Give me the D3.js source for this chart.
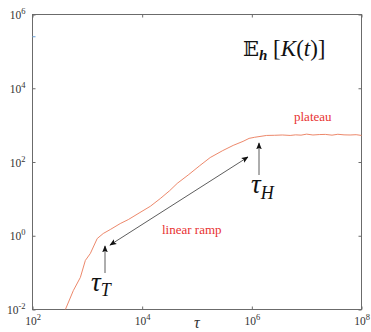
<!DOCTYPE html>
<html>
<head>
<meta charset="utf-8">
<script src="https://cdn.jsdelivr.net/npm/d3@7"></script>
<style>
  html, body { margin: 0; padding: 0; background: #fff; }
  svg { display: block; }
</style>
</head>
<body>
<svg id="chart" width="371" height="332"></svg>
<script>
// values
var tau = [398, 556, 746, 920, 1135, 1514, 1950, 2630, 3980, 5600, 9120, 14100, 21400,
  31600, 43600, 70800, 112000, 174000, 295000, 457000, 692000, 891000, 1.12e6, 1.86e6,
  2.6e6, 3.6e6, 5.0e6, 6.3e6, 7.9e6, 1.0e7, 1.3e7, 1.7e7, 2.2e7, 2.9e7, 3.7e7, 4.8e7,
  6.2e7, 8.0e7, 1.0e8];
var kMean = [0.010, 0.0327, 0.074, 0.214, 0.331, 0.84, 1.15, 1.48, 2.14, 2.75, 4.27, 6.3, 10.2,
  16.6, 26.3, 45.7, 79.4, 132, 204, 282, 363, 437, 468, 525,
  530, 540, 525, 545, 535, 570, 540, 555, 560, 535, 565, 545, 540, 550, 525];
var xTicks = [1e2, 1e4, 1e6, 1e8];
var xTickExp = ["2", "4", "6", "8"];
var yTicks = [1e-2, 1e0, 1e2, 1e4, 1e6];
var yTickExp = ["-2", "0", "2", "4", "6"];

var serif = "Liberation Serif, Tinos, Times New Roman, Times, Noto Serif, DejaVu Serif, serif";

var svg = d3.select("#chart");
var plotLeft = 32.5, plotRight = 361.5, plotTop = 14.5, plotBottom = 309.5;

var x = d3.scaleLog().domain([1e2, 1e8]).range([plotLeft, plotRight]);
var y = d3.scaleLog().domain([1e-2, 1e6]).range([plotBottom, plotTop]);

var axisColor = "#6b6b6b";

// frame
svg.append("rect")
  .attr("x", plotLeft).attr("y", plotTop)
  .attr("width", plotRight - plotLeft).attr("height", plotBottom - plotTop)
  .attr("fill", "none").attr("stroke", axisColor).attr("stroke-width", 1);

function styleAxis(g) {
  g.attr("font-family", serif);
  g.select(".domain").remove();
  g.selectAll(".tick line").attr("stroke", axisColor);
}
function noLabel() { return ""; }

var gx = svg.append("g").attr("transform", "translate(0," + plotBottom + ")")
  .call(d3.axisBottom(x).tickValues(xTicks).tickSize(-3).tickFormat(noLabel))
  .call(styleAxis);
svg.append("g").attr("transform", "translate(0," + plotTop + ")")
  .call(d3.axisTop(x).tickValues(xTicks).tickSize(-3).tickFormat(noLabel))
  .call(styleAxis);
var gy = svg.append("g").attr("transform", "translate(" + plotLeft + ",0)")
  .call(d3.axisLeft(y).tickValues(yTicks).tickSize(-3).tickFormat(noLabel))
  .call(styleAxis);
svg.append("g").attr("transform", "translate(" + plotRight + ",0)")
  .call(d3.axisRight(y).tickValues(yTicks).tickSize(-3).tickFormat(noLabel))
  .call(styleAxis);

// tick labels as 10 with a superscript exponent
gx.selectAll(".tick").each(function (d, i) {
  var t = d3.select(this).append("text")
    .attr("y", 15).attr("text-anchor", "middle")
    .style("font-family", serif)
    .attr("fill", "#333").attr("font-size", 11.5);
  t.append("tspan").text("10");
  t.append("tspan").attr("dy", -5).attr("font-size", 8.5).text(xTickExp[i]);
});
gy.selectAll(".tick").each(function (d, i) {
  var t = d3.select(this).append("text")
    .attr("x", -7).attr("y", 4).attr("text-anchor", "end")
    .style("font-family", serif)
    .attr("fill", "#333").attr("font-size", 11.5);
  t.append("tspan").text("10");
  t.append("tspan").attr("dy", -5).attr("font-size", 8.5).text(yTickExp[i]);
});

// small blue mark on left axis
svg.append("line")
  .attr("x1", plotLeft).attr("x2", plotLeft + 3)
  .attr("y1", y(2.5e5)).attr("y2", y(2.5e5))
  .attr("stroke", "#7fb0e0").attr("stroke-width", 1.2);

// curve
var line = d3.line()
  .x(function (d, i) { return x(tau[i]); })
  .y(function (d, i) { return y(kMean[i]); });
svg.append("path")
  .datum(tau)
  .attr("d", line)
  .attr("fill", "none")
  .attr("stroke", "#ea7a5a")
  .attr("stroke-width", 0.9);

// arrows
var defs = svg.append("defs");
defs.append("marker")
  .attr("id", "head")
  .attr("viewBox", "0 0 10 10")
  .attr("refX", 9).attr("refY", 5)
  .attr("markerWidth", 7).attr("markerHeight", 7)
  .attr("markerUnits", "userSpaceOnUse")
  .attr("orient", "auto-start-reverse")
  .append("path").attr("d", "M0,1 L10,5 L0,9 L2,5 Z").attr("fill", "#111");

function arrow(x1, y1, x2, y2, both) {
  var l = svg.append("line")
    .attr("x1", x1).attr("y1", y1).attr("x2", x2).attr("y2", y2)
    .attr("stroke", "#333").attr("stroke-width", 0.8)
    .attr("marker-end", "url(#head)");
  if (both) l.attr("marker-start", "url(#head)");
}
arrow(110, 245, 248, 157, true);
arrow(105, 273, 105, 246, false);
arrow(259, 175, 259, 143, false);

// annotations
var tT = svg.append("text").attr("x", 91).attr("y", 291)
  .style("font-family", serif).attr("font-style", "italic").attr("fill", "#111");
tT.append("tspan").attr("font-size", 27).text("τ");
tT.append("tspan").attr("font-size", 18).attr("dy", 5).text("T");

var tH = svg.append("text").attr("x", 251).attr("y", 193)
  .style("font-family", serif).attr("font-style", "italic").attr("fill", "#111");
tH.append("tspan").attr("font-size", 27).text("τ");
tH.append("tspan").attr("font-size", 18).attr("dy", 6).text("H");

svg.append("text").attr("x", 162).attr("y", 234)
  .style("font-family", serif)
  .attr("font-size", 13).attr("fill", "#e83232").text("linear ramp");
svg.append("text").attr("x", 294).attr("y", 121)
  .style("font-family", serif)
  .attr("font-size", 13).attr("fill", "#e83232").text("plateau");

svg.append("text").attr("x", 194).attr("y", 328)
  .style("font-family", serif)
  .attr("font-size", 16).attr("font-style", "italic")
  .attr("fill", "#333").text("τ");

var title = svg.append("text").attr("x", 243).attr("y", 56)
  .style("font-family", serif).attr("fill", "#111");
title.append("tspan").attr("font-size", 21).style("font-family", "DejaVu Serif, serif").text("𝔼");
title.append("tspan").attr("font-size", 15).attr("font-weight", "bold").attr("font-style", "italic")
  .attr("dy", 4).text("h");
title.append("tspan").attr("font-size", 23).attr("dy", -4).text(" [");
title.append("tspan").attr("font-size", 23).attr("font-style", "italic").text("K");
title.append("tspan").attr("font-size", 23).text("(");
title.append("tspan").attr("font-size", 23).attr("font-style", "italic").text("t");
title.append("tspan").attr("font-size", 23).text(")]");
</script>
</body>
</html>
